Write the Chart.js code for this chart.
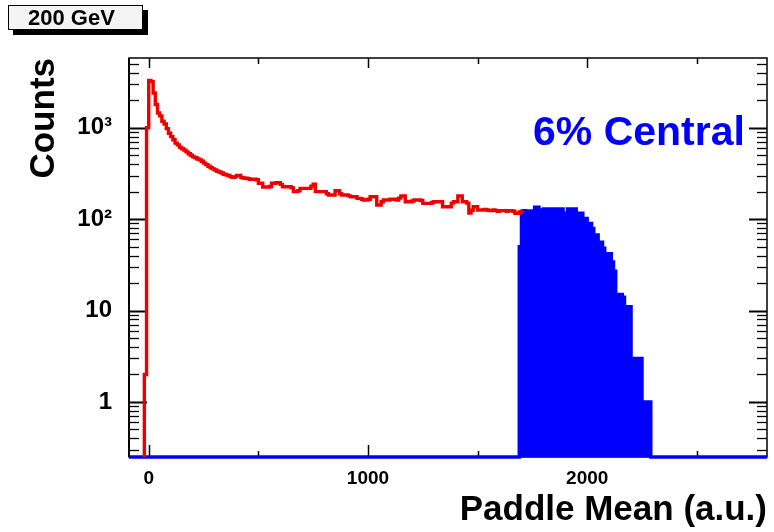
<!DOCTYPE html>
<html>
<head>
<meta charset="utf-8">
<script src="https://cdn.jsdelivr.net/npm/chart.js@4/dist/chart.umd.min.js"></script>
<style>
  html, body { margin: 0; padding: 0; background: #fff; }
  #wrap { position: relative; width: 774px; height: 532px; overflow: hidden; }
  canvas { position: absolute; left: 0; top: 0; }
  #energy {
    position: absolute; left: 8px; top: 5px; width: 114px; height: 23px;
    padding-left: 19px; border: 1px solid #000; background: #f4f4f4;
    box-shadow: 5px 5px 0 #000; color: #000;
    font: bold 22px 'Liberation Sans', Arial, sans-serif; line-height: 24px;
    white-space: nowrap;
  }
  #central {
    position: absolute; left: 533px; top: 111px; color: #0000ff;
    font: bold 41px 'Liberation Sans', Arial, sans-serif; line-height: 41px;
    white-space: nowrap;
  }
</style>
</head>
<body>
<div id="wrap">
  <canvas id="c" width="774" height="532"></canvas>
  <div id="energy">200 GeV</div>
  <div id="central">6% Central</div>
</div>
<script>
// Paddle mean distribution, 10 a.u. bins
const binWidth = 10;

// all events, bins starting at redStart
const redStart = -20;
const redCounts = [
  2, 1000,
  3300, 3200, 2400, 1800, 1450, 1350, 1180, 1100, 980, 870,
  800, 740, 680, 650, 610, 590, 570, 545, 520, 500,
  480, 470, 455, 445, 430, 410, 395, 380, 365, 355,
  345, 335, 328, 320, 310, 305, 300, 292, 288, 290,
  300, 300, 285, 282, 280, 278, 273, 273, 273, 270,
  247, 247, 225, 225, 225, 228, 247, 247, 250, 250,
  240, 226, 226, 226, 226, 220, 200, 200, 205, 217,
  217, 217, 217, 217, 230, 242, 200, 200, 200, 200,
  200, 190, 184, 184, 184, 205, 205, 190, 184, 184,
  184, 180, 176, 176, 176, 169, 169, 165, 162, 162,
  165, 176, 176, 176, 143, 143, 155, 162, 162, 162,
  165, 165, 165, 162, 170, 179, 179, 155, 155, 155,
  158, 162, 162, 162, 160, 149, 149, 149, 149, 152,
  155, 155, 155, 155, 137, 137, 137, 137, 150, 155,
  155, 179, 179, 155, 155, 150, 117, 125, 137, 137,
  126, 126, 126, 128, 126, 124, 124, 126, 124, 122,
  124, 124, 124, 122, 124, 124, 122, 116, 116, 120,
  120
];

// most central 6% of events
const blueStart = 1690;
const blueCounts = [
  50, 122, 124, 122, 121, 123, 122, 135, 135, 126,
  126, 129, 129, 129, 129, 129, 129, 129, 129, 129,
  116, 116, 129, 129, 129, 129, 116, 116, 116, 102,
  102, 90, 90, 79, 67, 67, 56, 56, 48, 42,
  42, 42, 34, 27, 15, 15, 15, 14, 11, 11,
  11, 3, 3, 3, 3, 3, 1, 1, 1, 1
];

// axes
const xRange = [-90, 2820];
const yRange = [0.25, 5800];
const xLabelValues = [0, 1000, 2000];
const xMinorValues = [500, 1500, 2500];
const yLabelValues = [1, 10, 100, 1000];
const yLabelTexts = ['1', '10', '10\u00B2', '10\u00B3'];

// empty bins sit on the floor of the log axis
const floor = yRange[0];

const FONT = "'Liberation Sans', Arial, Helvetica, sans-serif";

// outline of a histogram as points for a stepped line
function redPoints() {
  const pts = [{ x: redStart, y: floor }];
  redCounts.forEach((c, i) => pts.push({ x: redStart + i * binWidth, y: c }));
  pts.push({ x: redStart + redCounts.length * binWidth, y: redCounts[redCounts.length - 1] });
  return pts;
}
function bluePoints() {
  const pts = [{ x: xRange[0], y: floor }, { x: blueStart, y: floor }];
  blueCounts.forEach((c, i) => pts.push({ x: blueStart + i * binWidth, y: c }));
  pts.push({ x: blueStart + blueCounts.length * binWidth, y: floor });
  pts.push({ x: xRange[1], y: floor });
  return pts;
}

// frame with inward ticks on all four sides
const framePlugin = {
  id: 'frame',
  beforeDatasetsDraw(chart) {
    const { ctx, chartArea: a, scales: { x, y } } = chart;
    ctx.save();
    ctx.strokeStyle = '#000';
    const tick = (x1, y1, x2, y2, w) => {
      ctx.lineWidth = w;
      ctx.beginPath(); ctx.moveTo(x1, y1); ctx.lineTo(x2, y2); ctx.stroke();
    };
    for (let d = -1; d <= 3; d++) {
      for (let k = 1; k <= 9; k++) {
        const v = k * Math.pow(10, d);
        if (v < yRange[0] || v > yRange[1]) continue;
        const py = Math.round(y.getPixelForValue(v)) + 0.5;
        const major = k === 1;
        const len = major ? 18 : 10;
        const w = major ? 2 : 1.3;
        tick(a.left, py, a.left + len, py, w);
        tick(a.right, py, a.right - len, py, w);
      }
    }
    xLabelValues.forEach(v => {
      const px = Math.round(x.getPixelForValue(v)) + 0.5;
      tick(px, a.bottom, px, a.bottom - 12, 1.5);
      tick(px, a.top, px, a.top + 10, 1.5);
    });
    xMinorValues.forEach(v => {
      const px = Math.round(x.getPixelForValue(v)) + 0.5;
      tick(px, a.bottom, px, a.bottom - 6, 1.5);
      tick(px, a.top, px, a.top + 6, 1.5);
    });
    ctx.lineWidth = 1.5;
    ctx.strokeRect(a.left, a.top, a.right - a.left, a.bottom - a.top);
    ctx.lineWidth = 2;
    ctx.beginPath(); ctx.moveTo(a.left, a.top); ctx.lineTo(a.left, a.bottom); ctx.stroke();
    ctx.restore();
  }
};

new Chart(document.getElementById('c'), {
  type: 'line',
  data: {
    datasets: [
      {
        label: 'all',
        data: redPoints(),
        stepped: true,
        borderColor: '#ee0000',
        borderWidth: 3.4,
        pointRadius: 0,
        fill: false
      },
      {
        label: '6% central',
        data: bluePoints(),
        stepped: true,
        borderColor: '#0000ff',
        backgroundColor: '#0000ff',
        borderWidth: 3.4,
        pointRadius: 0,
        fill: 'start',
        clip: { left: 0, top: 0, right: 0, bottom: 3 }
      }
    ]
  },
  options: {
    responsive: false,
    animation: false,
    events: [],
    layout: { padding: { top: 58, right: 7, left: 0, bottom: 0 } },
    plugins: { legend: { display: false }, tooltip: { enabled: false } },
    scales: {
      x: {
        type: 'linear',
        min: xRange[0],
        max: xRange[1],
        afterBuildTicks: s => { s.ticks = xLabelValues.map(v => ({ value: v })); },
        afterFit: s => { s.height = 75; },
        grid: { display: false, drawTicks: false },
        border: { display: false },
        ticks: {
          color: '#000', padding: 10, maxRotation: 0, autoSkip: false,
          font: { family: FONT, size: 19, weight: 'bold' },
          callback: v => String(v)
        },
        title: {
          display: true, text: 'Paddle Mean (a.u.)', align: 'end', color: '#000',
          font: { family: FONT, size: 35, weight: 'bold' },
          padding: { top: 0, bottom: 1 }
        }
      },
      y: {
        type: 'logarithmic',
        min: yRange[0],
        max: yRange[1],
        afterBuildTicks: s => { s.ticks = yLabelValues.map(v => ({ value: v })); },
        afterFit: s => { s.width = 129; },
        grid: { display: false, drawTicks: false },
        border: { display: false },
        ticks: {
          color: '#000', padding: 17, autoSkip: false,
          font: { family: FONT, size: 24, weight: 'bold' },
          callback: v => {
            const i = yLabelValues.indexOf(v);
            return i >= 0 ? yLabelTexts[i] : '';
          }
        },
        title: {
          display: true, text: 'Counts', align: 'end', color: '#000',
          font: { family: FONT, size: 35, weight: 'bold' },
          padding: { top: 23, bottom: 0 }
        }
      }
    }
  },
  plugins: [framePlugin]
});
</script>
</body>
</html>
